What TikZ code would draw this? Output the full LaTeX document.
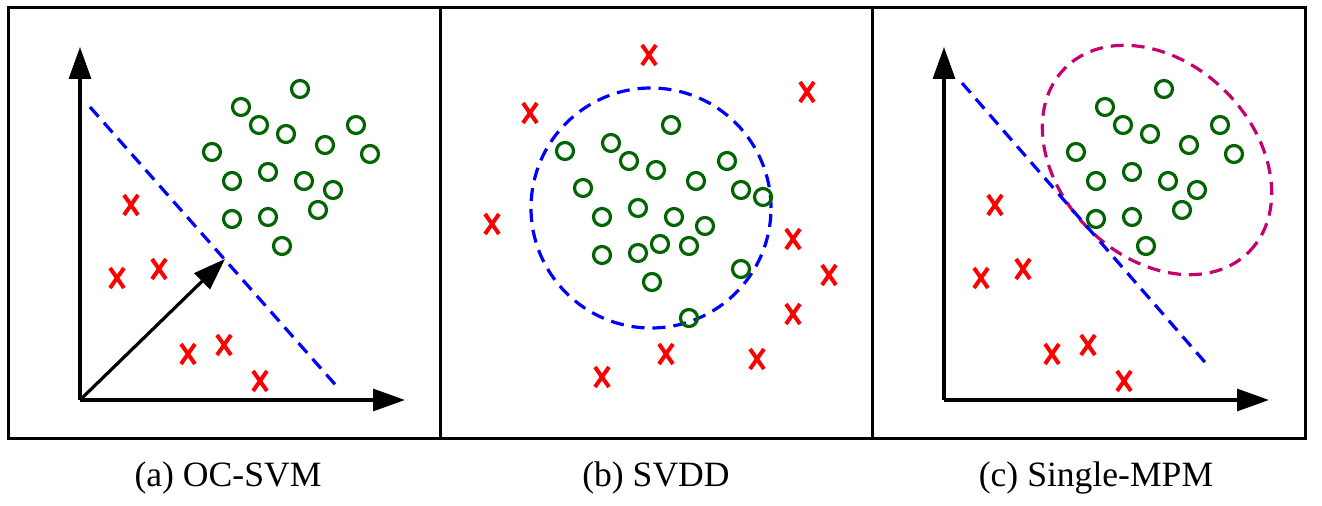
\documentclass[tikz,border=0pt]{standalone}
\usepackage{fontspec}
\setmainfont{Liberation Serif}
\usetikzlibrary{arrows.meta,shapes.misc}
\definecolor{ptgreen}{RGB}{0,100,0}
\definecolor{mpmline}{RGB}{200,0,110}

\begin{document}
\begin{tikzpicture}[x=0.5pt,y=-0.5pt,
	axis/.style={line width=1.6pt,-{Triangle[length=16pt,width=11pt]}},
	posmark/.style={circle,draw=ptgreen,line width=1.6pt,minimum size=8.5pt,inner sep=0pt},
	negmark/.style={cross out,draw=red,line width=2pt,minimum width=5pt,minimum height=8pt,inner sep=0pt},
	bound/.style={line width=1.6pt,dash pattern=on 6.5pt off 4pt}]
	\useasboundingbox (0,0) rectangle (1322,506);
	\draw[line width=1.5pt] (8,8) rectangle (1305,439);
	\draw[line width=1.5pt] (440,8)--(440,439);
	\draw[line width=1.5pt] (872,8)--(872,439);

	% (a) and (c) share the same points
	\foreach \p/\s in {a/0,c/864}{
		\begin{scope}[xshift=\s*0.5pt]
		\coordinate (o\p) at (80,400);
		\coordinate (y\p) at (80,47);
		\coordinate (x\p) at (405,400);
		\draw[axis] (o\p)--(y\p);
		\draw[axis] (o\p)--(x\p);
		\foreach \x/\y [count=\i] in {300/89,241/107,259/125,286/134,356/125,325/145,370/154,212/152,
			232/181,268/172,304/181,333/190,318/210,232/219,268/217,282/246}
			\node[posmark] (\p p\i) at (\x,\y) {};
		\foreach \x/\y [count=\i] in {131/205,117/278,159/269,188/354,224/345,260/381}
			\node[negmark] (\p n\i) at (\x,\y) {};
		\end{scope}
	}
	\coordinate (la1) at (90,107);
	\coordinate (la2) at (340,390);
	\coordinate (w) at (225,259);
	\draw[bound,blue] (la1)--(la2);
	\draw[axis] (oa)--(w);

	\coordinate (cb) at (651,208);
	\draw[bound,blue] (cb) circle [radius=60pt];
	\foreach \x/\y [count=\i] in {671/125,565/151,611/143,629/161,656/170,727/161,696/181,741/190,
		763/197,583/188,638/208,602/217,674/217,705/226,660/244,689/246,602/255,638/253,741/269,
		652/282,689/318}
		\node[posmark] (bp\i) at (\x,\y) {};
	\foreach \x/\y [count=\i] in {649/55,807/92,530/113,492/224,793/239,829/275,793/314,666/354,
		757/359,602/377}
		\node[negmark] (bn\i) at (\x,\y) {};

	\coordinate (cc) at (1157,160);
	\draw[bound,mpmline,rotate around={-45:(cc)}] (cc) ellipse [x radius=65pt,y radius=48.5pt];
	\coordinate (lc1) at (962,83);
	\coordinate (lc2) at (1210,368);
	\draw[bound,blue] (lc1)--(lc2);

	\node[font=\fontsize{17.8}{21}\selectfont] (capa) at (228,478) {(a) OC-SVM};
	\node[font=\fontsize{17.8}{21}\selectfont] (capb) at (656,478) {(b) SVDD};
	\node[font=\fontsize{17.8}{21}\selectfont] (capc) at (1096,478) {(c) Single-MPM};
\end{tikzpicture}
\end{document}
